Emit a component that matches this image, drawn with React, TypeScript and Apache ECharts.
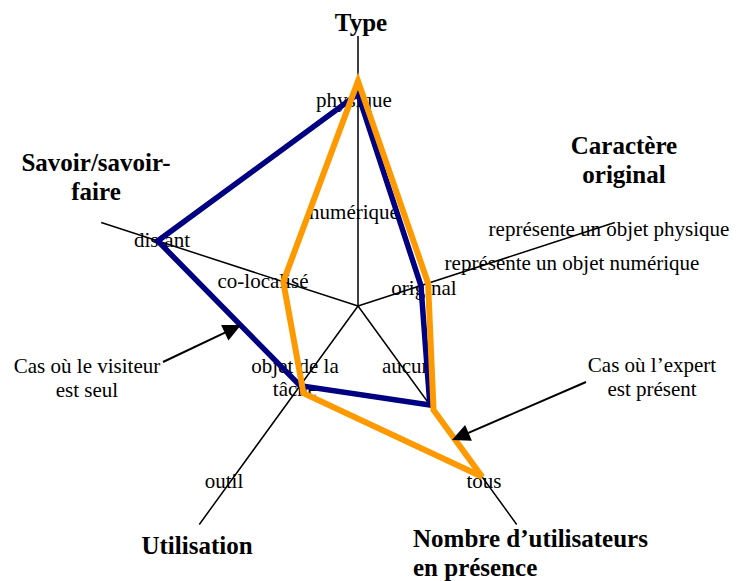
import React, { useEffect, useRef } from "react";
import * as echarts from "echarts";

// Axes (clockwise from the top), angle of each spoke in degrees
const axisNames = [
  "Type",
  "Caractère\noriginal",
  "Nombre d’utilisateurs\nen présence",
  "Utilisation",
  "Savoir/savoir-\nfaire",
];
const axisAngles = [0, 72, 144, 216, 288];

// Level labels along each axis
const levelLabels = [
  ["physique", "numérique"],
  ["représente un objet physique", "représente un objet numérique", "original"],
  ["tous", "aucun"],
  ["outil", "objet de la\ntâche"],
  ["distant", "co-localisé"],
];

// Series: "Cas où le visiteur est seul" (navy)
const visitorAngles = [0, 288, 216, 144, 72];
const visitorRadii = [0.785, 0.78, 0.365, 0.453, 0.245];

// Series: "Cas où l’expert est présent" (orange)
const expertAngles = [0, 288, 212, 144, 144, 72];
const expertRadii = [0.833, 0.291, 0.381, 0.782, 0.476, 0.273];

const annotations = ["Cas où le visiteur\nest seul", "Cas où l’expert\nest présent"];

// ---- layout (pixels) ----
const namePos: [number, number, string][] = [
  [361, 22, "center"],
  [624, 160, "center"],
  [413, 553, "left"],
  [197, 545, "center"],
  [96, 177, "center"],
];
const levelPos: [number, number][][] = [
  [[354, 100], [354, 212]],
  [[609, 229], [572, 263], [424, 288]],
  [[484, 481], [407, 366]],
  [[224, 481], [295, 377]],
  [[162, 240], [263, 281]],
];
const annotationPos: [number, number][] = [[87, 378], [652, 377]];
const arrows = [
  { from: [163, 362], to: [241, 325] },
  { from: [586, 382], to: [452, 440] },
];

const FONT = '"Liberation Serif", "Times New Roman", serif';

function closePath(angles: number[], radii: number[]) {
  const pts = radii.map((r, i) => [r, angles[i]]);
  return [...pts, pts[0], pts[1]];
}

export default function App() {
  const ref = useRef<HTMLDivElement>(null);
  useEffect(() => {
    if (!ref.current) return;
    const chart = echarts.init(ref.current, undefined, { renderer: "svg" });

    const graphics: any[] = [];
    axisNames.forEach((n, i) => {
      const [x, y, align] = namePos[i];
      graphics.push({
        type: "text",
        x,
        y,
        z: 0,
        style: {
          text: n,
          fontFamily: FONT,
          fontWeight: "bold",
          fontSize: 25,
          lineHeight: 29,
          fill: "#000",
          align,
          verticalAlign: "middle",
        },
      });
    });
    levelLabels.forEach((arr, i) => {
      arr.forEach((t, j) => {
        const [x, y] = levelPos[i][j];
        graphics.push({
          type: "text",
          x,
          y,
          z: 0,
          style: {
            text: t,
            fontFamily: FONT,
            fontSize: 21,
            lineHeight: 23,
            fill: "#000",
            align: "center",
            verticalAlign: "middle",
          },
        });
      });
    });
    annotations.forEach((t, i) => {
      const [x, y] = annotationPos[i];
      graphics.push({
        type: "text",
        x,
        y,
        z: 0,
        style: {
          text: t,
          fontFamily: FONT,
          fontSize: 21,
          lineHeight: 24,
          fill: "#000",
          align: "center",
          verticalAlign: "middle",
        },
      });
    });
    arrows.forEach((a) => {
      const [x1, y1] = a.from;
      const [x2, y2] = a.to;
      const len = Math.hypot(x2 - x1, y2 - y1);
      const ux = (x2 - x1) / len;
      const uy = (y2 - y1) / len;
      const hl = 18;
      const hw = 8.5;
      const bx = x2 - ux * hl;
      const by = y2 - uy * hl;
      graphics.push({
        type: "line",
        z: 5,
        shape: { x1, y1, x2: bx + ux * 2, y2: by + uy * 2 },
        style: { stroke: "#000", lineWidth: 2 },
      });
      graphics.push({
        type: "polygon",
        z: 5,
        shape: {
          points: [
            [x2, y2],
            [bx - uy * hw, by + ux * hw],
            [bx + uy * hw, by - ux * hw],
          ],
        },
        style: { fill: "#000" },
      });
    });

    chart.setOption({
      animation: false,
      backgroundColor: "#fff",
      polar: { center: [358, 306], radius: 270 },
      angleAxis: {
        type: "value",
        min: 0,
        max: 360,
        interval: 72,
        startAngle: 90,
        clockwise: true,
        z: 1,
        axisLine: { show: false },
        axisTick: { show: false },
        axisLabel: { show: false },
        splitLine: { show: true, lineStyle: { color: "#000", width: 1.5 } },
      },
      radiusAxis: {
        type: "value",
        min: 0,
        max: 1,
        axisLine: { show: false },
        axisTick: { show: false },
        axisLabel: { show: false },
        splitLine: { show: false },
      },
      graphic: graphics,
      series: [
        {
          name: "Cas où le visiteur est seul",
          type: "line",
          coordinateSystem: "polar",
          symbol: "none",
          z: 2,
          lineStyle: { color: "#000080", width: 5.5, join: "miter", miterLimit: 10 },
          data: closePath(visitorAngles, visitorRadii),
        },
        {
          name: "Cas où l’expert est présent",
          type: "line",
          coordinateSystem: "polar",
          symbol: "none",
          z: 3,
          lineStyle: { color: "#FF9900", width: 6, join: "miter", miterLimit: 10 },
          data: closePath(expertAngles, expertRadii),
        },
      ],
    });
    return () => chart.dispose();
  }, []);
  return (
    <div
      ref={ref}
      style={{ position: "absolute", left: 0, top: 0, width: 741, height: 581, background: "#fff" }}
    />
  );
}
